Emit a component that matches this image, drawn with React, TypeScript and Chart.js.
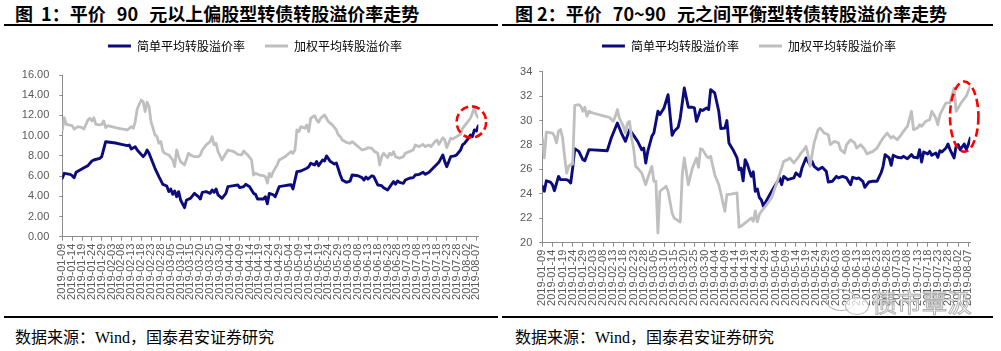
import React, { useEffect, useRef } from "react";
import { Chart, registerables } from "chart.js";

Chart.register(...registerables);

// ---------------- data ----------------
const seriesNames = ["简单平均转股溢价率", "加权平均转股溢价率"];

const xTickLabels = [
  "2019-01-09", "2019-01-14", "2019-01-19", "2019-01-24", "2019-01-29", "2019-02-03", "2019-02-08",
  "2019-02-13", "2019-02-18", "2019-02-23", "2019-02-28", "2019-03-05", "2019-03-10", "2019-03-15",
  "2019-03-20", "2019-03-25", "2019-03-30", "2019-04-04", "2019-04-09", "2019-04-14", "2019-04-19",
  "2019-04-24", "2019-04-29", "2019-05-04", "2019-05-09", "2019-05-14", "2019-05-19", "2019-05-24",
  "2019-05-29", "2019-06-03", "2019-06-08", "2019-06-13", "2019-06-18", "2019-06-23", "2019-06-28",
  "2019-07-03", "2019-07-08", "2019-07-13", "2019-07-18", "2019-07-23", "2019-07-28", "2019-08-02",
  "2019-08-07",
];
const axisStart = "2019-01-09";
const axisEnd = "2019-08-08";

const fig1YTicks = [0, 2, 4, 6, 8, 10, 12, 14, 16];
const fig2YTicks = [20, 22, 24, 26, 28, 30, 32, 34];

// 图1 简单平均
const fig1SimpleDates = [
  "01-09", "01-10", "01-13", "01-14", "01-15", "01-16", "01-18", "01-20", "01-22", "01-24",
  "01-25", "01-28", "01-29", "01-31", "02-05", "02-08", "02-11", "02-12", "02-13", "02-15",
  "02-16", "02-19", "02-20", "02-21", "02-22", "02-25", "02-27", "03-01", "03-03", "03-04",
  "03-05", "03-06", "03-07", "03-08", "03-09", "03-10", "03-12", "03-13", "03-15", "03-17",
  "03-19", "03-20", "03-21", "03-23", "03-25", "03-26", "03-27", "03-28", "03-29", "03-31",
  "04-02", "04-03", "04-06", "04-08", "04-09", "04-11", "04-12", "04-14", "04-16", "04-17",
  "04-18", "04-21", "04-22", "04-23", "04-24", "04-26", "04-27", "04-29", "05-02", "05-04",
  "05-05", "05-06", "05-08", "05-10", "05-13", "05-14", "05-15", "05-17", "05-18", "05-19",
  "05-21", "05-22", "05-23", "05-25", "05-27", "05-28", "05-30", "05-31", "06-02", "06-04",
  "06-05", "06-08", "06-10", "06-11", "06-12", "06-13", "06-15", "06-16", "06-18", "06-20",
  "06-21", "06-23", "06-25", "06-26", "06-27", "06-28", "06-29", "07-01", "07-02", "07-04",
  "07-06", "07-07", "07-09", "07-11", "07-12", "07-14", "07-16", "07-18", "07-19", "07-21",
  "07-22", "07-23", "07-25", "07-27", "07-28", "07-30", "07-31", "08-01", "08-03", "08-04",
  "08-05", "08-06", "08-07", "08-08",
];
const fig1SimpleValues = [
  5.78, 6.27, 6.17, 6.04, 5.84, 6.37, 6.6, 6.83, 7.03, 7.49,
  7.59, 7.76, 7.92, 9.4, 9.27, 9.14, 9.01, 9.07, 8.68, 8.91,
  8.58, 7.92, 8.15, 8.58, 8.25, 6.77, 5.94, 5.18, 5.02, 4.46,
  4.72, 4.19, 4.52, 3.96, 4.46, 3.63, 2.87, 3.63, 3.8, 4.29,
  3.96, 3.73, 4.39, 4.46, 4.29, 4.62, 4.39, 4.72, 4.13, 3.8,
  4.29, 4.95, 5.05, 5.12, 4.85, 4.95, 5.18, 4.95, 4.29, 4.19,
  3.73, 3.73, 3.96, 3.25, 4.29, 4.15, 3.96, 4.95, 5.05, 5.12,
  5.15, 4.72, 6.44, 6.5, 6.77, 6.93, 7.26, 7.1, 7.43, 7.03,
  7.59, 7.5, 7.99, 7.43, 7.2, 7.3, 6.1, 5.61, 5.38, 5.51,
  6.1, 6.03, 5.85, 5.61, 5.9, 5.7, 6.03, 5.94, 5.12, 5.05,
  4.85, 4.62, 5.18, 5.45, 5.2, 5.51, 5.38, 5.28, 5.61, 5.78,
  5.85, 6.1, 6.17, 6.37, 6.17, 6.37, 6.77, 7.16, 7.36, 8.09,
  7.43, 6.93, 7.92, 8.0, 8.09, 8.58, 9.08, 9.24, 9.74, 10.07,
  9.9, 10.56, 10.46, 10.99,
];

// 图1 加权平均
const fig1WeightedDates = [
  "01-09", "01-10", "01-11", "01-14", "01-15", "01-17", "01-19", "01-20", "01-22", "01-23",
  "01-24", "01-25", "01-26", "01-28", "01-29", "01-30", "01-31", "02-01", "02-05", "02-08",
  "02-11", "02-13", "02-14", "02-15", "02-16", "02-18", "02-19", "02-20", "02-21", "02-22",
  "02-23", "02-25", "02-26", "02-27", "02-28", "03-01", "03-02", "03-04", "03-06", "03-07",
  "03-08", "03-09", "03-10", "03-12", "03-14", "03-15", "03-17", "03-19", "03-20", "03-21",
  "03-23", "03-25", "03-26", "03-27", "03-28", "03-29", "03-31", "04-02", "04-03", "04-06",
  "04-08", "04-10", "04-11", "04-13", "04-15", "04-16", "04-17", "04-19", "04-21", "04-22",
  "04-23", "04-24", "04-25", "04-26", "04-28", "04-29", "05-02", "05-03", "05-05", "05-06",
  "05-07", "05-08", "05-09", "05-10", "05-12", "05-13", "05-14", "05-15", "05-17", "05-18",
  "05-19", "05-20", "05-21", "05-22", "05-23", "05-24", "05-26", "05-28", "05-29", "05-30",
  "05-31", "06-02", "06-04", "06-05", "06-07", "06-09", "06-10", "06-12", "06-13", "06-15",
  "06-16", "06-18", "06-19", "06-20", "06-21", "06-23", "06-24", "06-25", "06-26", "06-27",
  "06-29", "07-01", "07-02", "07-04", "07-06", "07-07", "07-09", "07-11", "07-12", "07-14",
  "07-15", "07-17", "07-18", "07-19", "07-21", "07-22", "07-23", "07-25", "07-26", "07-27",
  "07-28", "07-30", "07-31", "08-02", "08-04", "08-05", "08-06", "08-07", "08-08",
];
const fig1WeightedValues = [
  10.56, 11.78, 11.12, 10.99, 10.66, 10.89, 10.79, 10.66, 11.55, 11.72,
  11.45, 11.78, 11.12, 11.06, 11.12, 11.45, 10.79, 10.99, 10.79, 10.66,
  10.56, 10.89, 10.73, 11.39, 12.64, 13.53, 13.37, 12.38, 13.3, 12.87,
  11.39, 10.07, 9.9, 9.24, 9.41, 8.48, 8.25, 8.09, 7.59, 6.93,
  8.58, 7.92, 7.43, 7.1, 8.25, 8.09, 7.92, 7.92, 8.09, 8.58,
  9.08, 9.41, 9.9, 9.08, 9.24, 8.42, 7.59, 8.25, 8.58, 8.42,
  8.15, 8.09, 8.48, 8.09, 7.59, 6.1, 6.27, 6.1, 6.04, 5.94,
  5.3, 6.27, 5.94, 6.44, 7.1, 7.59, 7.92, 8.09, 8.42, 8.25,
  8.58, 10.56, 10.4, 10.89, 10.73, 11.06, 10.4, 11.72, 11.98, 11.55,
  11.32, 11.72, 11.88, 12.05, 11.72, 11.39, 11.06, 10.56, 10.07, 9.9,
  9.57, 9.34, 9.24, 9.41, 9.08, 8.75, 8.58, 8.68, 8.81, 8.75,
  8.48, 8.25, 7.1, 7.92, 8.25, 7.82, 8.25, 8.09, 8.42, 7.92,
  7.76, 7.92, 8.25, 8.42, 8.58, 9.08, 8.91, 9.14, 8.91, 9.08,
  8.91, 9.41, 9.57, 9.14, 9.8, 9.57, 8.81, 9.74, 9.67, 9.8,
  9.9, 10.13, 10.73, 11.22, 11.72, 12.21, 12.8, 12.05, 11.78,
];

// 图2 简单平均
const fig2SimpleDates = [
  "01-09", "01-10", "01-11", "01-13", "01-14", "01-15", "01-17", "01-18", "01-21", "01-22",
  "01-23", "01-24", "01-25", "01-27", "01-29", "01-30", "02-01", "02-10", "02-12", "02-15",
  "02-17", "02-19", "02-21", "02-23", "02-25", "02-27", "02-28", "03-01", "03-02", "03-04",
  "03-05", "03-07", "03-08", "03-10", "03-12", "03-14", "03-15", "03-17", "03-18", "03-20",
  "03-22", "03-24", "03-25", "03-26", "03-28", "03-29", "03-31", "04-01", "04-02", "04-04",
  "04-06", "04-07", "04-09", "04-10", "04-11", "04-13", "04-15", "04-16", "04-17", "04-18",
  "04-19", "04-20", "04-22", "04-23", "04-24", "04-25", "04-26", "04-27", "04-28", "05-02",
  "05-06", "05-07", "05-08", "05-10", "05-13", "05-14", "05-16", "05-17", "05-19", "05-21",
  "05-22", "05-23", "05-25", "05-27", "05-29", "05-30", "06-01", "06-03", "06-04", "06-06",
  "06-08", "06-10", "06-11", "06-13", "06-14", "06-16", "06-17", "06-19", "06-21", "06-23",
  "06-25", "06-26", "06-27", "06-29", "06-30", "07-01", "07-03", "07-05", "07-06", "07-08",
  "07-10", "07-11", "07-13", "07-14", "07-15", "07-16", "07-18", "07-19", "07-20", "07-22",
  "07-23", "07-24", "07-25", "07-27", "07-28", "07-29", "07-31", "08-01", "08-02", "08-03",
  "08-05", "08-06", "08-07", "08-08",
];
const fig2SimpleValues = [
  24.62, 24.21, 25.07, 24.96, 24.75, 24.26, 25.43, 25.16, 25.16, 25.07,
  24.89, 26.17, 27.7, 27.48, 26.8, 26.72, 27.62, 27.53, 28.57, 29.8,
  28.98, 28.3, 29.25, 28.79, 28.3, 27.62, 27.75, 26.52, 27.48, 28.71,
  28.98, 30.76, 30.49, 31.03, 32.12, 28.79, 29.12, 29.45, 30.21, 32.67,
  31.09, 31.09, 31.03, 29.94, 30.9, 30.82, 31.03, 30.9, 32.53, 32.26,
  30.76, 29.34, 29.39, 30.0, 28.17, 27.62, 26.94, 25.98, 26.11, 25.07,
  26.8, 26.45, 25.43, 25.8, 24.2, 24.4, 23.7, 23.5, 22.98, 24.2,
  25.3, 24.75, 25.43, 25.16, 25.3, 25.71, 25.43, 26.11, 26.94, 26.39,
  26.66, 26.25, 25.98, 26.17, 25.84, 24.97, 25.03, 25.43, 25.3, 25.43,
  25.3, 24.75, 25.35, 25.24, 25.3, 25.03, 24.53, 24.97, 25.03, 25.03,
  25.71, 26.25, 27.21, 26.94, 26.33, 27.16, 27.0, 26.94, 27.07, 26.88,
  27.21, 27.0, 26.94, 27.62, 26.61, 27.43, 27.27, 27.48, 27.16, 27.34,
  26.99, 27.53, 27.43, 27.75, 28.08, 27.62, 26.94, 27.89, 28.03, 27.62,
  28.08, 27.62, 28.03, 28.57,
];

// 图2 加权平均
const fig2WeightedDates = [
  "01-09", "01-10", "01-11", "01-14", "01-15", "01-16", "01-17", "01-18", "01-19", "01-20",
  "01-21", "01-22", "01-23", "01-24", "01-25", "01-27", "01-28", "01-29", "01-30", "01-31",
  "02-01", "02-03", "02-09", "02-11", "02-13", "02-14", "02-15", "02-16", "02-18", "02-19",
  "02-20", "02-21", "02-22", "02-23", "02-24", "02-25", "02-27", "03-01", "03-02", "03-04",
  "03-05", "03-06", "03-07", "03-08", "03-10", "03-11", "03-12", "03-14", "03-15", "03-18",
  "03-19", "03-20", "03-22", "03-23", "03-24", "03-26", "03-27", "03-28", "03-29", "03-31",
  "04-01", "04-02", "04-04", "04-06", "04-07", "04-09", "04-10", "04-12", "04-15", "04-16",
  "04-17", "04-20", "04-22", "04-23", "04-24", "04-25", "04-26", "04-27", "04-29", "05-02",
  "05-04", "05-07", "05-08", "05-10", "05-11", "05-13", "05-15", "05-16", "05-18", "05-19",
  "05-20", "05-21", "05-23", "05-25", "05-26", "05-28", "05-30", "05-31", "06-02", "06-04",
  "06-05", "06-07", "06-08", "06-10", "06-12", "06-13", "06-15", "06-17", "06-18", "06-21",
  "06-23", "06-25", "06-26", "06-28", "06-30", "07-01", "07-03", "07-05", "07-06", "07-08",
  "07-10", "07-11", "07-13", "07-14", "07-15", "07-17", "07-19", "07-20", "07-22", "07-23",
  "07-24", "07-27", "07-29", "07-31", "08-01", "08-02", "08-04", "08-06", "08-07", "08-08",
];
const fig2WeightedValues = [
  28.57, 26.94, 29.06, 28.98, 28.71, 28.17, 29.12, 29.26, 28.57, 27.07,
  25.7, 26.25, 26.39, 26.44, 31.25, 31.3, 31.17, 30.76, 31.09, 30.35,
  30.76, 30.62, 30.35, 30.27, 29.94, 30.35, 30.9, 30.21, 29.52, 28.98,
  29.8, 29.94, 28.57, 27.75, 26.25, 26.11, 25.7, 24.75, 25.3, 26.25,
  25.03, 25.03, 20.79, 24.21, 24.48, 24.62, 24.21, 22.43, 22.02, 21.69,
  25.57, 26.94, 24.75, 25.43, 26.11, 26.94, 26.17, 27.7, 27.62, 27.07,
  26.94, 27.07, 25.57, 24.75, 24.07, 22.57, 23.94, 23.98, 24.07, 21.26,
  21.35, 21.75, 22.02, 21.75, 22.6, 21.7, 22.3, 22.57, 22.98, 23.66,
  24.61, 26.11, 26.66, 26.8, 26.94, 26.53, 26.94, 27.21, 27.62, 27.89,
  27.21, 26.25, 28.17, 29.26, 29.39, 28.98, 28.84, 28.03, 28.3, 28.17,
  27.62, 27.34, 28.03, 28.43, 28.17, 27.75, 28.03, 27.62, 27.27, 27.48,
  27.75, 28.3, 28.57, 28.98, 28.57, 28.71, 28.43, 28.84, 29.12, 29.53,
  30.76, 29.26, 29.39, 29.66, 29.53, 29.94, 30.07, 30.76, 30.21, 29.66,
  30.48, 31.44, 31.44, 32.67, 30.76, 31.03, 31.58, 32.0, 32.4, 32.8,
];

// highlighted (red dashed ellipse) ranges
const fig1HighlightDates = ["07-28", "08-12"];
const fig1HighlightValues = [9.8, 12.9];
const fig2HighlightDates = ["07-29", "08-12"];
const fig2HighlightValues = [27.45, 33.2];

// ---------------- helpers ----------------
const NAVY = "#0B0B7E";
const GRAY = "#BFBFBF";
const AXIS = "#8C8C8C";
const TICK_TEXT = "#595959";

function dayIndex(s: string): number {
  const p = s.split("-").map(Number);
  const m = p.length === 3 ? p[1] : p[0];
  const d = p.length === 3 ? p[2] : p[1];
  const base = axisStart.split("-").map(Number);
  return Math.round(
    (Date.UTC(2019, m - 1, d) - Date.UTC(base[0], base[1] - 1, base[2])) / 86400000
  );
}

function toPoints(dates: string[], values: number[]) {
  return dates.map((d, i) => ({ x: dayIndex(d), y: values[i] }));
}

type Spec = {
  simpleDates: string[];
  simpleValues: number[];
  weightedDates: string[];
  weightedValues: number[];
  yTicks: number[];
  yFormat: (v: number) => string;
  padRight: number;
  yWidth: number;
  yTickPad: number;
  legendHeight: number;
  legendShift: number;
  xHeight: number;
  hlDates: string[];
  hlValues: number[];
};

function makeChart(canvas: HTMLCanvasElement, spec: Spec) {
  const tickLabelByDay = new Map<number, string>(xTickLabels.map((l) => [dayIndex(l), l]));

  const legendPlacement = {
    id: "legendPlacement",
    beforeInit(chart: any) {
      const legend = chart.legend;
      if (!legend) return;
      const orig = legend.fit;
      legend.fit = function () {
        orig.call(this);
        this.height = spec.legendHeight;
      };
    },
    afterLayout(chart: any) {
      const legend = chart.legend;
      if (!legend) return;
      legend.left += spec.legendShift;
      legend.right += spec.legendShift;
    },
  };

  const highlightPlugin = {
    id: "highlightEllipse",
    afterDatasetsDraw(chart: any) {
      const { ctx, scales } = chart;
      const xs = scales.x;
      const ys = scales.y;
      const x0 = xs.getPixelForValue(dayIndex(spec.hlDates[0]));
      const x1 = xs.getPixelForValue(dayIndex(spec.hlDates[1]));
      const y0 = ys.getPixelForValue(spec.hlValues[0]);
      const y1 = ys.getPixelForValue(spec.hlValues[1]);
      ctx.save();
      ctx.beginPath();
      ctx.ellipse((x0 + x1) / 2, (y0 + y1) / 2, Math.abs(x1 - x0) / 2, Math.abs(y1 - y0) / 2, 0, 0, Math.PI * 2);
      ctx.setLineDash([8, 4]);
      ctx.lineWidth = 2.6;
      ctx.strokeStyle = "#FF0000";
      ctx.stroke();
      ctx.restore();
    },
  };

  const ylo = spec.yTicks[0];
  const yhi = spec.yTicks[spec.yTicks.length - 1];

  return new Chart(canvas, {
    type: "line",
    data: {
      datasets: [
        {
          label: seriesNames[0],
          data: toPoints(spec.simpleDates, spec.simpleValues),
          borderColor: NAVY,
          backgroundColor: NAVY,
          borderWidth: 2.9,
          pointRadius: 0,
          tension: 0,
          borderJoinStyle: "round",
          borderCapStyle: "round",
          order: 1,
        },
        {
          label: seriesNames[1],
          data: toPoints(spec.weightedDates, spec.weightedValues),
          borderColor: GRAY,
          backgroundColor: GRAY,
          borderWidth: 2.8,
          pointRadius: 0,
          tension: 0,
          borderJoinStyle: "round",
          borderCapStyle: "round",
          order: 0,
        },
      ],
    } as any,
    options: {
      animation: false,
      responsive: false,
      maintainAspectRatio: false,
      events: [],
      layout: { padding: { left: 0, right: spec.padRight, top: 0, bottom: 0 } },
      plugins: {
        tooltip: { enabled: false },
        legend: {
          display: true,
          position: "top",
          labels: {
            boxWidth: 23,
            boxHeight: 3,
            padding: 20,
            color: "#333333",
            font: { family: '"Noto Sans CJK SC", "Noto Sans"', size: 12 },
            generateLabels: (chart: any) =>
              chart.data.datasets.map((ds: any, i: number) => ({
                text: ds.label,
                fillStyle: ds.borderColor,
                strokeStyle: ds.borderColor,
                lineWidth: 0,
                hidden: false,
                datasetIndex: i,
              })),
          },
        },
      },
      scales: {
        x: {
          type: "linear",
          min: 0,
          max: dayIndex(axisEnd),
          afterBuildTicks: (scale: any) => {
            scale.ticks = xTickLabels.map((l) => ({ value: dayIndex(l) }));
          },
          afterFit: (scale: any) => {
            scale.height = spec.xHeight;
          },
          ticks: {
            autoSkip: false,
            maxRotation: 90,
            minRotation: 90,
            padding: 3,
            color: TICK_TEXT,
            font: { family: '"Liberation Sans", Arial', size: 11 },
            callback: (v: any) => tickLabelByDay.get(Number(v)) ?? "",
          },
          grid: { display: true, drawOnChartArea: false, drawTicks: true, tickLength: 4, color: AXIS },
          border: { display: true, color: AXIS, width: 1 },
        },
        y: {
          type: "linear",
          min: ylo,
          max: yhi,
          afterBuildTicks: (scale: any) => {
            scale.ticks = spec.yTicks.map((v) => ({ value: v }));
          },
          afterFit: (scale: any) => {
            scale.width = spec.yWidth;
          },
          ticks: {
            padding: spec.yTickPad,
            color: TICK_TEXT,
            font: { family: '"Liberation Sans", Arial', size: 11 },
            callback: (v: any) => spec.yFormat(Number(v)),
          },
          grid: { display: true, drawOnChartArea: false, drawTicks: true, tickLength: 3, color: AXIS },
          border: { display: true, color: AXIS, width: 1 },
        },
      },
    } as any,
    plugins: [legendPlacement, highlightPlugin] as any,
  });
}

function ChartCanvas({ spec, left }: { spec: Spec; left: number }) {
  const ref = useRef<HTMLCanvasElement | null>(null);
  useEffect(() => {
    if (!ref.current) return;
    const chart = makeChart(ref.current, spec);
    return () => chart.destroy();
  }, []);
  return (
    <canvas
      ref={ref}
      width={500}
      height={300}
      style={{ position: "absolute", left, top: 20, width: 500, height: 300 }}
    />
  );
}

const fig1Spec: Spec = {
  simpleDates: fig1SimpleDates,
  simpleValues: fig1SimpleValues,
  weightedDates: fig1WeightedDates,
  weightedValues: fig1WeightedValues,
  yTicks: fig1YTicks,
  yFormat: (v) => v.toFixed(2),
  padRight: 21.7,
  yWidth: 62.3,
  yTickPad: 10,
  legendHeight: 55,
  legendShift: 15.8,
  xHeight: 83.3,
  hlDates: fig1HighlightDates,
  hlValues: fig1HighlightValues,
};

const fig2Spec: Spec = {
  simpleDates: fig2SimpleDates,
  simpleValues: fig2SimpleValues,
  weightedDates: fig2WeightedDates,
  weightedValues: fig2WeightedValues,
  yTicks: fig2YTicks,
  yFormat: (v) => String(v),
  padRight: 29.7,
  yWidth: 42.3,
  yTickPad: 7,
  legendHeight: 51.7,
  legendShift: 13.8,
  xHeight: 77.3,
  hlDates: fig2HighlightDates,
  hlValues: fig2HighlightValues,
};

const titleStyle: React.CSSProperties = {
  position: "absolute",
  top: 4,
  fontFamily: '"Noto Sans CJK SC", "Noto Sans"',
  fontWeight: 700,
  fontSize: 18,
  lineHeight: "18px",
  color: "#000",
  whiteSpace: "pre",
  wordSpacing: 7,
};

const sourceStyle: React.CSSProperties = {
  position: "absolute",
  top: 330,
  fontFamily: '"Liberation Serif", "Noto Sans CJK SC"',
  fontSize: 16,
  lineHeight: "16px",
  color: "#000",
  whiteSpace: "nowrap",
};

const rule = (left: number, top: number, width: number): React.CSSProperties => ({
  position: "absolute",
  left,
  top,
  width,
  height: 2,
  background: "#000",
});

export default function App() {
  return (
    <div
      style={{
        position: "absolute",
        left: 0,
        top: 0,
        width: 1001,
        height: 351,
        background: "#fff",
        overflow: "hidden",
      }}
    >
      <div style={{ ...titleStyle, left: 15 }}>
        <span style={{ wordSpacing: 4 }}>图 1：</span>平价 90 元以上偏股型转债转股溢价率走势
      </div>
      <div style={{ ...titleStyle, left: 515 }}>
        <span style={{ wordSpacing: 0 }}>图 2：</span>平价 70~90 元之间平衡型转债转股溢价率走势
      </div>
      <div style={rule(4, 24, 494)} />
      <div style={rule(502, 24, 491)} />

      <ChartCanvas spec={fig1Spec} left={0} />
      <ChartCanvas spec={fig2Spec} left={500} />

      <div style={rule(4, 316, 494)} />
      <div style={rule(502, 316, 491)} />
      <div style={{ ...sourceStyle, left: 15 }}>数据来源：Wind，国泰君安证券研究</div>
      <div style={{ ...sourceStyle, left: 515 }}>数据来源：Wind，国泰君安证券研究</div>

      {/* watermark */}
      <div
        style={{
          position: "absolute",
          left: 826,
          top: 289,
          width: 30,
          height: 22,
          borderRadius: "50%",
          border: "1.5px solid #b8b8b8",
          boxSizing: "border-box",
        }}
      />
      <div
        style={{
          position: "absolute",
          left: 845,
          top: 297,
          width: 24,
          height: 18,
          borderRadius: "50%",
          border: "1.5px solid #b8b8b8",
          background: "rgba(255,255,255,0.7)",
          boxSizing: "border-box",
        }}
      />
      <div
        style={{
          position: "absolute",
          left: 872,
          top: 288,
          fontFamily: '"Noto Sans CJK SC"',
          fontSize: 25,
          lineHeight: "27px",
          color: "rgba(255,255,255,0.75)",
          WebkitTextStroke: "1px #b0b0b0",
          whiteSpace: "nowrap",
        }}
      >
        债市覃汲
      </div>
    </div>
  );
}
